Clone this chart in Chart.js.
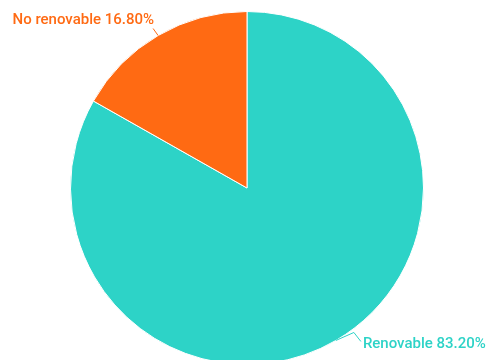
<!DOCTYPE html>
<html>
<head>
<meta charset="utf-8">
<script src="https://cdn.jsdelivr.net/npm/chart.js@4/dist/chart.umd.min.js"></script>
<style>
  html, body { margin: 0; padding: 0; background: #fff; overflow: hidden; }
  #wrap { position: absolute; left: 0; top: 0; width: 486px; height: 366px; }
</style>
</head>
<body>
<div id="wrap"><canvas id="c"></canvas></div>
<script>
const categories = ["Renovable", "No renovable"];
const shares = [83.2, 16.8];
const colors = ["#2dd3c7", "#ff6a13"];

// etiquetas con línea guía fuera del pastel
const outLabels = {
    id: "outLabels",
    afterDatasetsDraw(chart) {
        const ctx = chart.ctx;
        const arcs = chart.getDatasetMeta(0).data;
        ctx.save();
        ctx.font = "500 15px Roboto";
        ctx.lineWidth = 1;
        arcs.forEach((arc, i) => {
            const mid = (arc.startAngle + arc.endAngle) / 2;
            const ex = arc.x + Math.cos(mid) * arc.outerRadius;
            const ey = arc.y + Math.sin(mid) * arc.outerRadius;
            const text = categories[i] + " " + shares[i].toFixed(2) + "%";
            ctx.strokeStyle = colors[i];
            ctx.fillStyle = colors[i];
            ctx.beginPath();
            ctx.moveTo(ex, ey);
            if (Math.cos(mid) < 0) {
                ctx.lineTo(ex - 5, ey - 7);
                ctx.stroke();
                ctx.textAlign = "right";
                ctx.textBaseline = "middle";
                ctx.fillText(text, ex - 4, ey - 15);
            } else {
                ctx.lineTo(ex + 18, ey - 8);
                ctx.lineTo(ex + 25, ey + 1);
                ctx.stroke();
                ctx.textAlign = "left";
                ctx.textBaseline = "middle";
                ctx.fillText(text, ex + 27, ey + 4);
            }
        });
        ctx.restore();
    }
};

new Chart(document.getElementById("c"), {
    type: "pie",
    data: {
        labels: categories,
        datasets: [{
            data: shares,
            backgroundColor: colors,
            borderColor: "#ffffff",
            borderWidth: 1
        }]
    },
    options: {
        responsive: true,
        maintainAspectRatio: false,
        animation: false,
        layout: { padding: { left: 8, top: 11, bottom: 1, right: 0 } },
        plugins: {
            legend: { display: false },
            tooltip: { enabled: false }
        }
    },
    plugins: [outLabels]
});
</script>
</body>
</html>
